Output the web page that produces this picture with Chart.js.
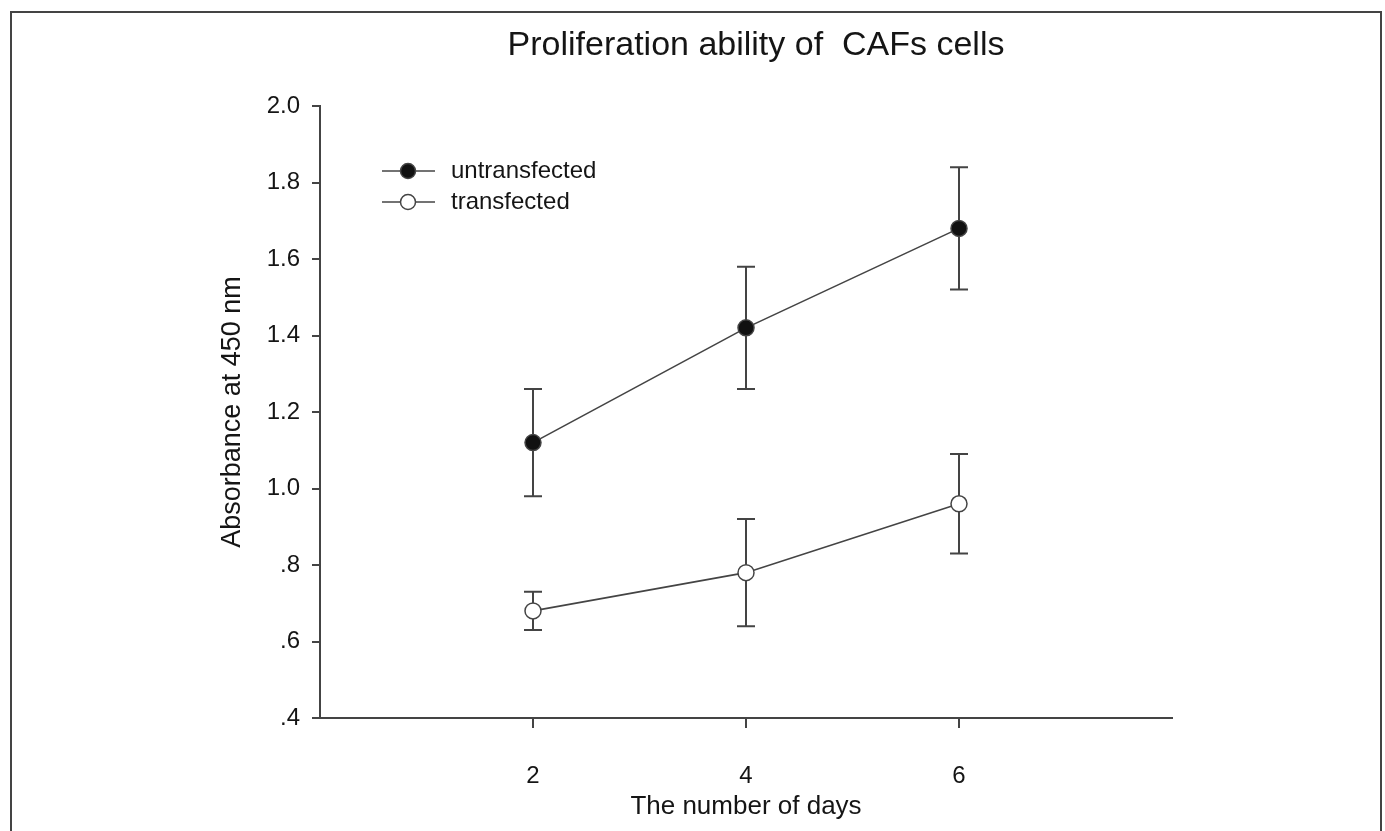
<!DOCTYPE html>
<html>
<head>
<meta charset="utf-8">
<script src="https://cdn.jsdelivr.net/npm/chart.js@4/dist/chart.umd.min.js"></script>
<style>
  html, body { margin: 0; padding: 0; background: #fff; }
  #wrap { width: 1385px; height: 831px; }
</style>
</head>
<body>
<div id="wrap"><canvas id="chart" width="1385" height="831"></canvas></div>
<script>
const days = [2, 4, 6];
const yTicks = [0.4, 0.6, 0.8, 1.0, 1.2, 1.4, 1.6, 1.8, 2.0];
const untransfected = [1.12, 1.42, 1.68];
const untransfectedErr = [0.14, 0.16, 0.16];
const transfected = [0.68, 0.78, 0.96];
const transfectedErr = [0.05, 0.14, 0.13];

const INK = '#444';
const TEXT = '#151515';
const FONT = "'Liberation Sans', Arial, sans-serif";

const toPoints = (ys) => days.map((d, i) => ({ x: d, y: ys[i] }));

// frame, title, error bars and the in-plot legend
const extras = {
  id: 'extras',
  beforeDraw(chart) {
    const ctx = chart.ctx;
    ctx.save();
    ctx.fillStyle = '#fff';
    ctx.fillRect(0, 0, chart.width, chart.height);
    ctx.strokeStyle = INK;
    ctx.lineWidth = 2;
    ctx.strokeRect(11, 12, 1370, 840);
    ctx.fillStyle = TEXT;
    ctx.font = '34px ' + FONT;
    ctx.textAlign = 'center';
    ctx.textBaseline = 'middle';
    ctx.fillText('Proliferation ability of  CAFs cells', 756, 46);
    ctx.restore();
  },
  beforeDatasetsDraw(chart) {
    const { ctx, scales: { x, y } } = chart;
    ctx.save();
    ctx.strokeStyle = INK;
    ctx.lineWidth = 2;
    chart.data.datasets.forEach((ds) => {
      ds.data.forEach((p, i) => {
        const px = x.getPixelForValue(p.x);
        const top = y.getPixelForValue(p.y + ds.err[i]);
        const bot = y.getPixelForValue(p.y - ds.err[i]);
        ctx.beginPath();
        ctx.moveTo(px, top); ctx.lineTo(px, bot);
        ctx.moveTo(px - 9, top); ctx.lineTo(px + 9, top);
        ctx.moveTo(px - 9, bot); ctx.lineTo(px + 9, bot);
        ctx.stroke();
      });
    });
    ctx.restore();
  },
  afterDraw(chart) {
    const ctx = chart.ctx;
    ctx.save();
    chart.data.datasets.forEach((ds, i) => {
      const ly = 171 + i * 31;
      ctx.strokeStyle = INK;
      ctx.lineWidth = 1.5;
      ctx.beginPath();
      ctx.moveTo(382, ly); ctx.lineTo(435, ly);
      ctx.stroke();
      ctx.beginPath();
      ctx.arc(408, ly, 7.5, 0, Math.PI * 2);
      ctx.fillStyle = ds.pointBackgroundColor;
      ctx.fill();
      ctx.stroke();
      ctx.fillStyle = TEXT;
      ctx.font = '24px ' + FONT;
      ctx.textAlign = 'left';
      ctx.textBaseline = 'middle';
      ctx.fillText(ds.label, 451, ly);
    });
    ctx.restore();
  }
};

new Chart(document.getElementById('chart'), {
  type: 'line',
  data: {
    datasets: [
      {
        label: 'untransfected',
        data: toPoints(untransfected),
        err: untransfectedErr,
        borderColor: INK,
        borderWidth: 1.6,
        pointRadius: 8,
        pointBorderWidth: 1.5,
        pointBorderColor: INK,
        pointBackgroundColor: '#111'
      },
      {
        label: 'transfected',
        data: toPoints(transfected),
        err: transfectedErr,
        borderColor: INK,
        borderWidth: 1.6,
        pointRadius: 8,
        pointBorderWidth: 1.5,
        pointBorderColor: INK,
        pointBackgroundColor: '#fff'
      }
    ]
  },
  options: {
    responsive: false,
    animation: false,
    layout: { padding: { left: 200, right: 213, top: 106, bottom: 0 } },
    plugins: {
      legend: { display: false },
      title: { display: false },
      tooltip: { enabled: false }
    },
    scales: {
      x: {
        type: 'linear',
        min: 0,
        max: 8,
        afterFit: (s) => { s.height = 113; },
        afterBuildTicks: (s) => { s.ticks = days.map((v) => ({ value: v })); },
        grid: { drawOnChartArea: false, tickLength: 10, color: INK, lineWidth: 2 },
        border: { color: INK, width: 2 },
        ticks: { color: TEXT, padding: 34, font: { family: FONT, size: 24 } },
        title: {
          display: true,
          text: 'The number of days',
          color: TEXT,
          font: { family: FONT, size: 26 },
          padding: { top: 0, bottom: 9 }
        }
      },
      y: {
        min: 0.4,
        max: 2.0,
        afterFit: (s) => { s.width = 120; },
        afterBuildTicks: (s) => { s.ticks = yTicks.map((v) => ({ value: v })); },
        grid: { drawOnChartArea: false, tickLength: 8, color: INK, lineWidth: 2 },
        border: { color: INK, width: 2 },
        ticks: {
          color: TEXT,
          padding: 12,
          font: { family: FONT, size: 24 },
          callback: (v) => (v < 1 ? v.toFixed(1).slice(1) : v.toFixed(1))
        },
        title: {
          display: true,
          text: 'Absorbance at 450 nm',
          color: TEXT,
          font: { family: FONT, size: 27 },
          padding: { top: 16, bottom: 0 }
        }
      }
    }
  },
  plugins: [extras]
});
</script>
</body>
</html>
